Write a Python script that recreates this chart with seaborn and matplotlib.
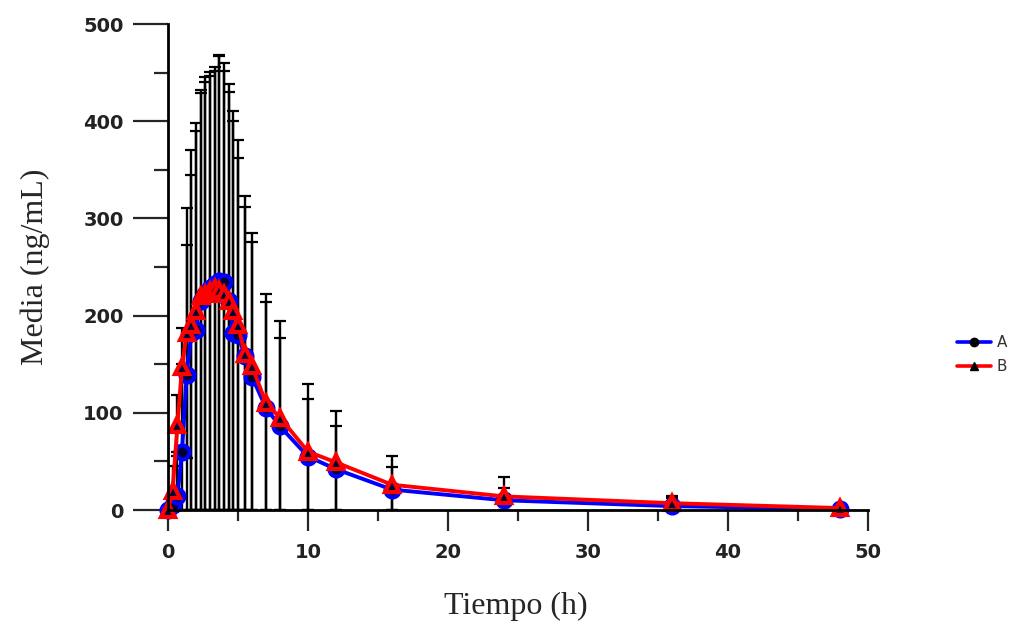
import matplotlib
matplotlib.use("Agg")
import matplotlib.pyplot as plt
import numpy as np
import pandas as pd
import seaborn as sns
from matplotlib.lines import Line2D
from matplotlib.ticker import MultipleLocator

# ---- data ----
time_h = [0, 0.33, 0.67, 1, 1.33, 1.67, 2, 2.33, 2.67, 3, 3.33, 3.67, 4, 4.33,
          4.67, 5, 5.5, 6, 7, 8, 10, 12, 16, 24, 36, 48]
mean_a = [0, 5, 14, 60, 139, 182, 185, 215, 222, 228, 232, 236, 235, 215,
          182, 180, 158, 137, 105, 86, 55, 42, 21, 10, 4, 1]
sd_a = [0, 15, 46, 90, 134, 188, 213, 217, 223, 223, 224, 231, 225, 223,
        228, 201, 165, 148, 117, 91, 59, 44, 23, 13, 8, 2]
mean_b = [0, 20, 87, 147, 182, 190, 205, 220, 222, 225, 228, 226, 222, 215,
          205, 190, 160, 148, 110, 95, 60, 49, 26, 14, 7, 2]
sd_b = [0, 25, 31, 40, 129, 155, 185, 209, 218, 221, 224, 242, 230, 215,
        195, 172, 152, 128, 104, 99, 70, 53, 30, 20, 7, 2]
series_names = ["A", "B"]
series_colors = ["#0000ff", "#ff0000"]
series_markers = ["o", "^"]
x_ticks = [0, 10, 20, 30, 40, 50]
y_ticks = [0, 100, 200, 300, 400, 500]

df = pd.concat([
    pd.DataFrame({"Tiempo": time_h, "Media": mean_a, "SD": sd_a, "Grupo": "A"}),
    pd.DataFrame({"Tiempo": time_h, "Media": mean_b, "SD": sd_b, "Grupo": "B"}),
], ignore_index=True)

sns.set_style("white")
plt.rcParams["font.family"] = ["DejaVu Sans"]

fig = plt.figure(figsize=(10.15, 6.27), dpi=100)
ax = fig.add_axes([168 / 1015, 1 - 510 / 627, 700 / 1015, 486 / 627])

# error bars (black); the part below zero is cut at the axis
for name in series_names:
    sub = df[df["Grupo"] == name]
    m = sub["Media"].to_numpy(float)
    s = sub["SD"].to_numpy(float)
    lower = np.where(s >= m * 0.8, m, s)
    ax.errorbar(sub["Tiempo"], m, yerr=[lower, s], fmt="none",
                ecolor="black", elinewidth=1.7, capsize=4, capthick=1.6,
                zorder=2)

# mean lines
for name, col, mk in zip(series_names, series_colors, series_markers):
    sub = df[df["Grupo"] == name]
    sns.lineplot(data=sub, x="Tiempo", y="Media", ax=ax, color=col,
                 linewidth=2.8, marker=mk, markersize=10,
                 markerfacecolor="#000033", markeredgecolor=col,
                 markeredgewidth=3, legend=False, zorder=3, clip_on=False)

ax.set_xlim(0, 50)
ax.set_ylim(0, 500)
ax.set_xticks(x_ticks)
ax.set_yticks(y_ticks)
ax.xaxis.set_minor_locator(MultipleLocator(5))
ax.yaxis.set_minor_locator(MultipleLocator(50))

for s in ["top", "right"]:
    ax.spines[s].set_visible(False)
for s in ["left", "bottom"]:
    ax.spines[s].set_linewidth(2.0)
    ax.spines[s].set_color("black")
    ax.spines[s].set_zorder(4)

ax.tick_params(axis="y", which="major", length=25, width=1.6, pad=7,
               direction="out", left=True, labelsize=14, labelcolor="#222222")
ax.tick_params(axis="y", which="minor", length=10, width=1.6,
               direction="out", left=True)
ax.tick_params(axis="x", which="major", length=15, width=1.6, pad=9,
               direction="out", bottom=True, labelsize=14, labelcolor="#222222")
ax.tick_params(axis="x", which="minor", length=8, width=1.6,
               direction="out", bottom=True)
for lab in ax.get_xticklabels() + ax.get_yticklabels():
    lab.set_fontweight("bold")

ax.set_xlabel("Tiempo (h)", fontsize=23, family="Liberation Serif")
ax.set_ylabel("Media (ng/mL)", fontsize=23, family="Liberation Serif")
ax.xaxis.set_label_coords(0.497, -0.199)
ax.xaxis.label.set_va("center")
ax.yaxis.set_label_coords(-0.19, 0.5)
ax.yaxis.label.set_va("center")
ax.yaxis.label.set_ha("center")

handles = [
    Line2D([0], [0], color=c, lw=2.6, marker=m, markersize=6,
           markerfacecolor="black", markeredgecolor="black")
    for c, m in zip(series_colors, series_markers)
]
fig.legend(handles, series_names, loc="center left",
           bbox_to_anchor=(957 / 1015, 1 - 354.5 / 627), frameon=False,
           fontsize=11, handlelength=2.2, handletextpad=0.4,
           labelspacing=0.6, borderpad=0, borderaxespad=0,
           labelcolor="#333333")

fig.savefig("out.png", dpi=100)
